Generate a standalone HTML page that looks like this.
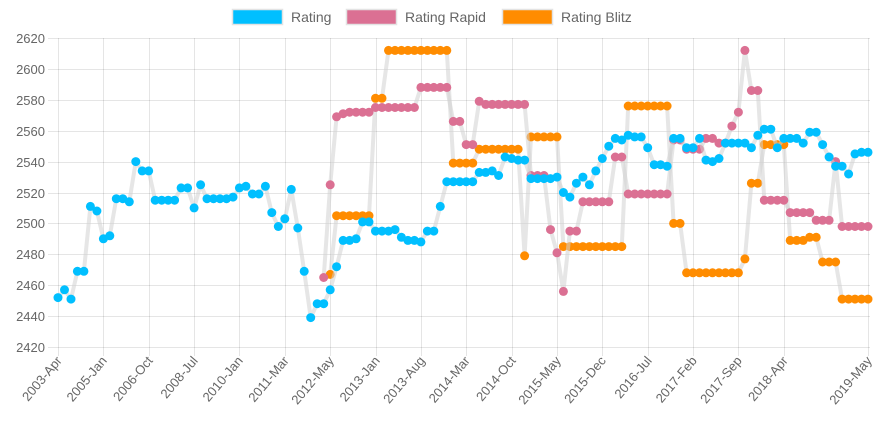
<!DOCTYPE html>
<html><head><meta charset="utf-8"><style>
html,body{margin:0;padding:0;background:#fff;}
svg{display:block;font-family:"Liberation Sans",Arial,sans-serif;}
</style></head><body>
<svg id="chart" width="886" height="431" viewBox="0 0 886 431">
  <g id="grid"></g>
  <g id="yaxis"></g>
  <g id="xaxis"></g>
  <g id="series"></g>
  <g id="legend">
    <g>
      <rect x="232.5" y="9.5" width="50" height="15" fill="#00bfff" stroke="#e3e3e3" stroke-width="1.5"/>
      <text x="291" y="22" font-size="14" fill="#666">Rating</text>
    </g>
    <g>
      <rect x="346.5" y="9.5" width="50" height="15" fill="#db7093" stroke="#e3e3e3" stroke-width="1.5"/>
      <text x="405" y="22" font-size="14" fill="#666">Rating Rapid</text>
    </g>
    <g>
      <rect x="502.5" y="9.5" width="50" height="15" fill="#ff8c00" stroke="#e3e3e3" stroke-width="1.5"/>
      <text x="561" y="22" font-size="14" fill="#666">Rating Blitz</text>
    </g>
  </g>
</svg>
<script>
const categories = ["2003-Apr","2003-Jul","2003-Oct","2004-Jan","2004-Apr","2004-Jul","2004-Oct","2005-Jan","2005-Apr","2005-Jul","2005-Oct","2006-Jan","2006-Apr","2006-Jul","2006-Oct","2007-Jan","2007-Apr","2007-Jul","2007-Oct","2008-Jan","2008-Apr","2008-Jul","2008-Oct","2009-Jan","2009-Apr","2009-Jul","2009-Sep","2009-Nov","2010-Jan","2010-Mar","2010-May","2010-Jul","2010-Sep","2010-Nov","2011-Jan","2011-Mar","2011-May","2011-Jul","2011-Sep","2011-Nov","2012-Jan","2012-Mar","2012-May","2012-Jun","2012-Jul","2012-Aug","2012-Sep","2012-Oct","2012-Nov","2013-Jan","2013-Feb","2013-Mar","2013-Apr","2013-May","2013-Jun","2013-Jul","2013-Aug","2013-Sep","2013-Oct","2013-Nov","2013-Dec","2014-Jan","2014-Feb","2014-Mar","2014-Apr","2014-May","2014-Jun","2014-Jul","2014-Aug","2014-Sep","2014-Oct","2014-Nov","2014-Dec","2015-Jan","2015-Feb","2015-Mar","2015-Apr","2015-May","2015-Jun","2015-Jul","2015-Aug","2015-Sep","2015-Oct","2015-Nov","2015-Dec","2016-Jan","2016-Feb","2016-Mar","2016-Apr","2016-May","2016-Jun","2016-Jul","2016-Aug","2016-Sep","2016-Oct","2016-Nov","2016-Dec","2017-Jan","2017-Feb","2017-Mar","2017-Apr","2017-May","2017-Jun","2017-Jul","2017-Aug","2017-Sep","2017-Oct","2017-Nov","2017-Dec","2018-Jan","2018-Feb","2018-Mar","2018-Apr","2018-May","2018-Jun","2018-Jul","2018-Aug","2018-Sep","2018-Oct","2018-Nov","2018-Dec","2019-Jan","2019-Feb","2019-Mar","2019-Apr","2019-May"];
const ratingValues = [2452,2457,2451,2469,2469,2511,2508,2490,2492,2516,2516,2514,2540,2534,2534,2515,2515,2515,2515,2523,2523,2510,2525,2516,2516,2516,2516,2517,2523,2524,2519,2519,2524,2507,2498,2503,2522,2497,2469,2439,2448,2448,2457,2472,2489,2489,2490,2501,2501,2495,2495,2495,2496,2491,2489,2489,2488,2495,2495,2511,2527,2527,2527,2527,2527,2533,2533,2534,2531,2543,2542,2541,2541,2529,2529,2529,2529,2530,2520,2517,2526,2530,2525,2534,2542,2550,2555,2554,2557,2556,2556,2549,2538,2538,2537,2555,2555,2549,2549,2555,2541,2540,2542,2552,2552,2552,2552,2549,2557,2561,2561,2549,2555,2555,2555,2552,2559,2559,2551,2543,2537,2537,2532,2545,2546,2546];
const rapidValues = [null,null,null,null,null,null,null,null,null,null,null,null,null,null,null,null,null,null,null,null,null,null,null,null,null,null,null,null,null,null,null,null,null,null,null,null,null,null,null,null,null,2465,2525,2569,2571,2572,2572,2572,2572,2575,2575,2575,2575,2575,2575,2575,2588,2588,2588,2588,2588,2566,2566,2551,2551,2579,2577,2577,2577,2577,2577,2577,2577,2531,2531,2531,2496,2481,2456,2495,2495,2514,2514,2514,2514,2514,2543,2543,2519,2519,2519,2519,2519,2519,2519,2554,2554,2548,2548,2548,2555,2555,2552,2552,2563,2572,2612,2586,2586,2515,2515,2515,2515,2507,2507,2507,2507,2502,2502,2502,2540,2498,2498,2498,2498,2498];
const blitzValues = [null,null,null,null,null,null,null,null,null,null,null,null,null,null,null,null,null,null,null,null,null,null,null,null,null,null,null,null,null,null,null,null,null,null,null,null,null,null,null,null,null,null,2467,2505,2505,2505,2505,2505,2505,2581,2581,2612,2612,2612,2612,2612,2612,2612,2612,2612,2612,2539,2539,2539,2539,2548,2548,2548,2548,2548,2548,2548,2479,2556,2556,2556,2556,2556,2485,2485,2485,2485,2485,2485,2485,2485,2485,2485,2576,2576,2576,2576,2576,2576,2576,2500,2500,2468,2468,2468,2468,2468,2468,2468,2468,2468,2477,2526,2526,2551,2551,2551,2551,2489,2489,2489,2491,2491,2475,2475,2475,2451,2451,2451,2451,2451];
const yTicks = [2420,2440,2460,2480,2500,2520,2540,2560,2580,2600,2620];
const xTickIndices = [0,7,14,21,28,35,42,49,56,63,70,77,84,91,98,105,112,125];

const NS = "http://www.w3.org/2000/svg";
const X0 = 58, X1 = 868, YTOP = 38, YBOT = 347, VMIN = 2420, VMAX = 2620;
function xPos(i){ return X0 + i*(X1-X0)/(categories.length-1); }
function yPos(v){ return YBOT - (v-VMIN)*(YBOT-YTOP)/(VMAX-VMIN); }
function mk(tag, attrs, parent){ const e=document.createElementNS(NS,tag); for(const k in attrs) e.setAttribute(k,attrs[k]); parent.appendChild(e); return e; }

const grid=document.getElementById('grid'), yaxis=document.getElementById('yaxis'), xaxis=document.getElementById('xaxis'), series=document.getElementById('series');
yTicks.forEach(v=>{
  const y=Math.round(yPos(v))+0.5;
  const l=mk('line',{x1:48,x2:X1+2,y1:y,y2:y,stroke:'rgba(0,0,0,0.1)','stroke-width':1},grid);
  
  
  const t=mk('text',{x:45,y:y+4.5,'text-anchor':'end','font-size':13,fill:'#666'},yaxis);
  t.textContent=v;
  
  
});
xTickIndices.forEach(i=>{
  const x=Math.round(xPos(i))+0.5;
  const l=mk('line',{x1:x,x2:x,y1:YTOP,y2:YBOT+9,stroke:'rgba(0,0,0,0.1)','stroke-width':1},grid);
  
  
  const t=mk('text',{x:x+4,y:YBOT+14,'text-anchor':'end','font-size':13,fill:'#666',transform:`rotate(-50 ${x+4} ${YBOT+14})`},xaxis);
  t.textContent=categories[i];
  
  
});
function drawSeries(vals,color,name){
  const g=mk('g',{},series);
  
  
  let d='';
  vals.forEach((v,i)=>{ if(v===null) return; d+=(d?'L':'M')+xPos(i).toFixed(1)+' '+yPos(v).toFixed(1); });
  const p=mk('path',{d:d,fill:'none',stroke:'rgba(210,210,210,0.55)','stroke-width':4,'stroke-linejoin':'round'},g);
  
  
  vals.forEach((v,i)=>{ if(v===null) return;
    const c=mk('circle',{cx:xPos(i).toFixed(1),cy:yPos(v).toFixed(1),r:4.5,fill:color},g);
    
    
  });
}
drawSeries(blitzValues,'#ff8c00','rating-blitz');
drawSeries(rapidValues,'#db7093','rating-rapid');
drawSeries(ratingValues,'#00bfff','rating');
</script>
</body></html>
